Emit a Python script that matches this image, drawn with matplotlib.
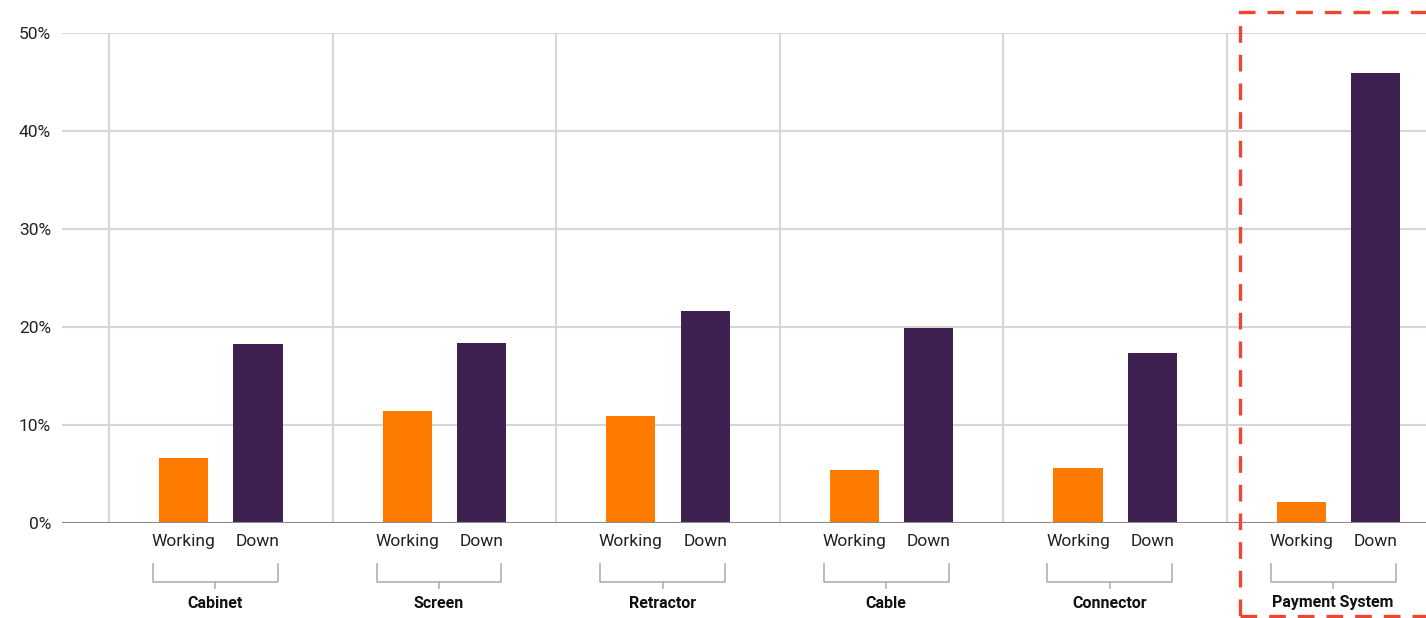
import matplotlib
matplotlib.use("Agg")
import matplotlib.pyplot as plt
import matplotlib.transforms as mtransforms
from matplotlib.patches import Rectangle
import numpy as np

plt.rcParams["font.family"] = ["Roboto", "DejaVu Sans"]

CATEGORIES = ["Cabinet", "Screen", "Retractor", "Cable", "Connector", "Payment System"]
STATES = ["Working", "Down"]
WORKING = [6.6, 11.4, 10.9, 5.4, 5.6, 2.1]
DOWN = [18.3, 18.4, 21.6, 19.9, 17.3, 45.9]
Y_TICKS = [0, 10, 20, 30, 40, 50]

ORANGE = "#FF7B00"
PURPLE = "#3E2150"
GRID = "#d6d6d6"

W, H = 1426, 618
fig = plt.figure(figsize=(W / 100, H / 100), dpi=100)
ax = fig.add_axes([62 / W, (H - 523) / H, (W - 62) / W, 490 / H])

x = np.arange(len(CATEGORIES))
off = 0.166
width = 0.22
ax.bar(x - off, WORKING, width, color=ORANGE, zorder=3)
ax.bar(x + off, DOWN, width, color=PURPLE, zorder=3)

ax.set_xlim(-0.711, 5.391)
ax.set_ylim(0, 50)

# horizontal grid
for v in Y_TICKS[1:]:
    ax.axhline(v, color=GRID, lw=1.5, zorder=1)
ax.axhline(0, color="#8a8a8a", lw=1.5, zorder=4)
# group separators
for s in np.arange(-0.5, len(CATEGORIES) - 0.5):
    ax.axvline(s, color=GRID, lw=1.5, zorder=1)

for sp in ax.spines.values():
    sp.set_visible(False)

ax.set_yticks(Y_TICKS)
ax.set_yticklabels([f"{v}%" for v in Y_TICKS], fontsize=12.5, color="#222222")
ax.tick_params(axis="y", length=0, pad=8)

xt = np.concatenate([[i - off, i + off] for i in x])
ax.set_xticks(xt)
ax.set_xticklabels(STATES * len(CATEGORIES), fontsize=12.5, color="#222222")
ax.tick_params(axis="x", length=0, pad=8)

# brackets and category labels
trans = mtransforms.blended_transform_factory(ax.transData, ax.transAxes)
def ay(py):
    return (523 - py) / 490

for i, cat in enumerate(CATEGORIES):
    l, r = i - 0.304, i + 0.255
    mid = (l + r) / 2
    ax.plot([l, l, r, r], [ay(564), ay(582), ay(582), ay(564)], color="#b0b0b0",
            lw=1.2, transform=trans, clip_on=False)
    ax.plot([mid, mid], [ay(582), ay(588)], color="#b0b0b0", lw=1.2,
            transform=trans, clip_on=False)
    ax.text(mid, ay(603), cat, transform=trans, ha="center", va="center",
            fontsize=11.5, fontweight="semibold", color="#111111")

# highlight box around Payment System
fig.patches.append(Rectangle((1240 / W, (H - 616) / H), 300 / W, 604 / H,
                             transform=fig.transFigure, fill=False,
                             edgecolor="#F0452E", lw=2.4, linestyle=(0, (5, 3.6)),
                             zorder=10))

fig.savefig("out.png", dpi=100)
